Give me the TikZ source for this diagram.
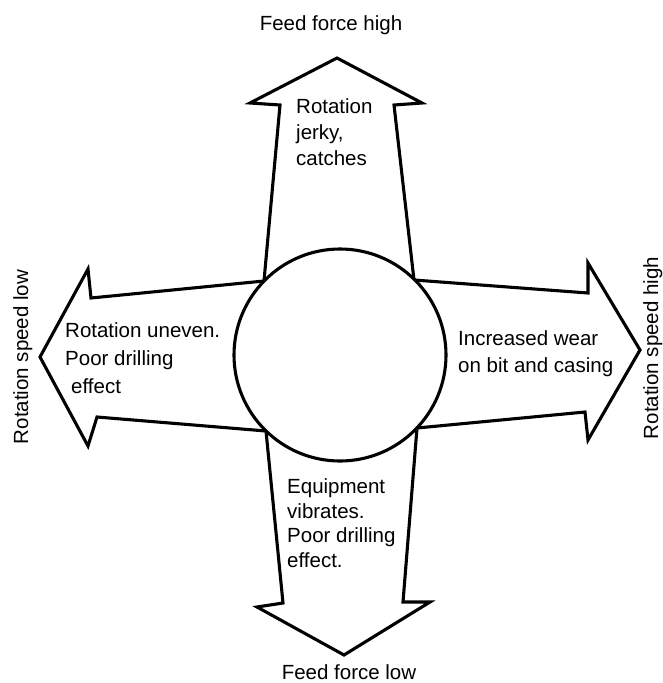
\documentclass[tikz,border=0pt]{standalone}
\usepackage{fontspec}
\setmainfont{Liberation Sans}
\begin{document}
\begin{tikzpicture}[x=1pt,y=-1pt,
  outline/.style={line width=3.1pt,line join=miter},
  hubstyle/.style={circle,draw,line width=3.1pt,fill=white,minimum size=212pt,inner sep=0pt},
  label/.style={inner sep=0pt,font=\fontsize{20.5}{25}\selectfont},
  inner/.style={inner sep=0pt,align=left,anchor=base west,font=\fontsize{20.5}{26}\selectfont}]
\useasboundingbox (0,0) rectangle (662,683);
% top arrow
\coordinate (tT) at (337,58);
\coordinate (tHR) at (422,103);
\coordinate (tSR) at (394,105);
\coordinate (cTR) at (414,280);
% right arrow
\coordinate (rST) at (588,293);
\coordinate (rHT) at (588,263);
\coordinate (rT) at (640,350);
\coordinate (rHB) at (588,440);
\coordinate (rSB) at (585,412);
\coordinate (cBR) at (417,428);
% bottom arrow
\coordinate (bSR) at (403,602);
\coordinate (bHR) at (430,602);
\coordinate (bT) at (344,655);
\coordinate (bHL) at (257,607);
\coordinate (bSL) at (283,603);
\coordinate (cBL) at (266,431);
% left arrow
\coordinate (lSB) at (97,417);
\coordinate (lHB) at (88,446);
\coordinate (lT) at (40,357);
\coordinate (lHT) at (88,269);
\coordinate (lST) at (91,298);
\coordinate (cTL) at (264,281);
% top arrow left side
\coordinate (tSL) at (280,105);
\coordinate (tHL) at (250,103);

\draw[outline] (tT) -- (tHR) -- (tSR) -- (cTR) -- (rST) -- (rHT) -- (rT) -- (rHB) -- (rSB) -- (cBR)
  -- (bSR) -- (bHR) -- (bT) -- (bHL) -- (bSL) -- (cBL) -- (lSB) -- (lHB) -- (lT) -- (lHT) -- (lST)
  -- (cTL) -- (tSL) -- (tHL) -- cycle;
\node[hubstyle] (hub) at (340,355) {};

\node[inner] (ttext) at (296,165) {Rotation\\jerky,\\catches};
\node[inner,font=\fontsize{20.5}{28}\selectfont] (ltext) at (65,393) {Rotation uneven.\\Poor drilling\\\hspace*{6pt}effect};
\node[inner,font=\fontsize{20.5}{27}\selectfont] (rtext) at (458,372) {Increased wear\\on bit and casing};
\node[inner,font=\fontsize{20.5}{24.5}\selectfont] (btext) at (287,567) {Equipment\\vibrates.\\Poor drilling\\effect.};

\node[label,anchor=base] (fhigh) at (331,30) {Feed force high};
\node[label,anchor=base] (flow) at (349,679) {Feed force low};
\node[label,anchor=base,rotate=90] (rlow) at (28,357) {Rotation speed low};
\node[label,anchor=base,rotate=90] (rhigh) at (658,348) {Rotation speed high};
\end{tikzpicture}
\end{document}
